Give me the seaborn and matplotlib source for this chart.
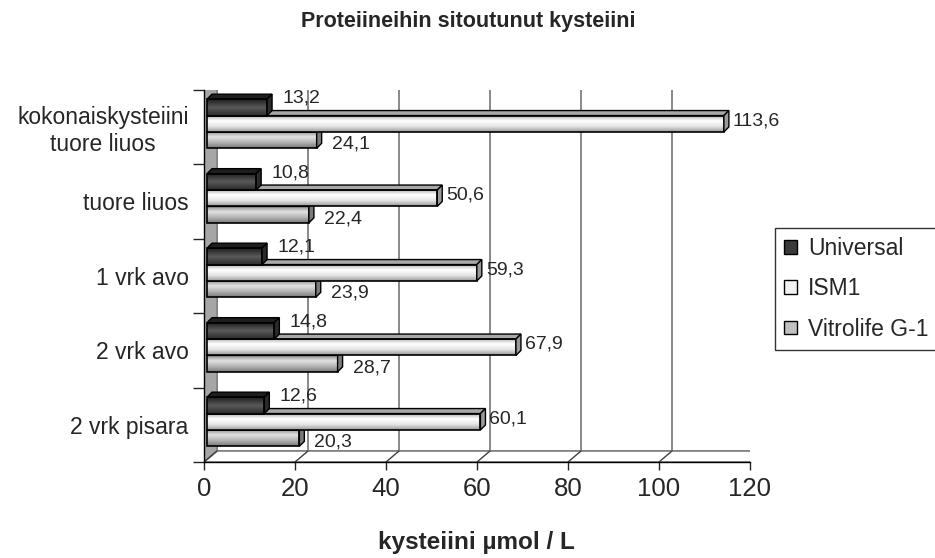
import numpy as np
import pandas as pd
import matplotlib
matplotlib.use("Agg")
import matplotlib.pyplot as plt
import matplotlib.transforms as mtrans
from matplotlib.patches import Polygon, Rectangle, Patch
from matplotlib.colors import LinearSegmentedColormap
import seaborn as sns

# data
categories = ["kokonaiskysteiini\ntuore liuos", "tuore liuos", "1 vrk avo", "2 vrk avo", "2 vrk pisara"]
series = ["Universal", "ISM1", "Vitrolife G-1"]
universal = [13.2, 10.8, 12.1, 14.8, 12.6]
ism1 = [113.6, 50.6, 59.3, 67.9, 60.1]
vitrolife = [24.1, 22.4, 23.9, 28.7, 20.3]
x_ticks = [0, 20, 40, 60, 80, 100, 120]

df = pd.DataFrame({
    "kategoria": categories * 3,
    "sarja": [series[0]] * 5 + [series[1]] * 5 + [series[2]] * 5,
    "arvo": universal + ism1 + vitrolife,
})

sns.set_style("white")
plt.rcParams['font.family'] = ['Liberation Sans', 'DejaVu Sans']

W, H = 935, 558
fig = plt.figure(figsize=(W / 100, H / 100), dpi=100)
# front plane of the 3d box
ax_l, ax_r, ax_t, ax_b = 204, 750, 89.5, 462
ax = fig.add_axes([ax_l / W, 1 - ax_b / H, (ax_r - ax_l) / W, (ax_b - ax_t) / H])

face = ["#3a3a3a", "#f2f2f2", "#c0c0c0"]
sns.barplot(data=df, y="kategoria", x="arvo", hue="sarja", orient="h",
            palette=face, width=0.66, ax=ax, legend=False, saturation=1,
            edgecolor="black", linewidth=1.2)

ax.set_xlim(0, 120)
ax.set_ylim(4.5, -0.5)
ax.set_xlabel("")
ax.set_ylabel("")

# pixel -> data helpers (axes geometry is fixed)
px_x = 120 / (ax_r - ax_l)
px_y = 5 / (ax_b - ax_t)


def shift(dx, dy):
    return ax.transData + mtrans.ScaledTranslation(dx / 100, dy / 100, fig.dpi_scale_trans)


# walls: back wall, left wall, floor
wall_dx, wall_dy = 13, 11
back_tr = shift(wall_dx, wall_dy)
ax.add_patch(Rectangle((0, -0.5), 120, 5, transform=back_tr, facecolor="white",
                       edgecolor="#808080", lw=1.4, zorder=0.1))
for t in x_ticks[1:-1]:
    ax.plot([t, t], [-0.5, 4.5], color="#808080", lw=1.3, transform=back_tr, zorder=0.2)
bwx, bwy = wall_dx * px_x, wall_dy * px_y
ax.add_patch(Polygon([(0, -0.5), (0, 4.5), (bwx, 4.5 - bwy), (bwx, -0.5 - bwy)],
                     closed=True, facecolor="#a6a6a6", edgecolor="#808080", lw=1, zorder=0.15))
ax.add_patch(Polygon([(0, 4.5), (120, 4.5), (120 + bwx, 4.5 - bwy), (bwx, 4.5 - bwy)],
                     closed=True, facecolor="white", edgecolor="#808080", lw=1.2, zorder=0.15))
for t in x_ticks:
    ax.plot([t, t + bwx], [4.5, 4.5 - bwy], color="#404040", lw=1, zorder=0.2)

# bars: shifted into the middle of the depth, with gradient and 3d faces
bar_tr = shift(3, 3)
depth_x, depth_y = 5 * px_x, 5 * px_y
grads = [
    ["#1e1e1e", "#5a5a5a", "#2a2a2a"],
    ["#a8a8a8", "#ffffff", "#e6e6e6", "#9a9a9a"],
    ["#8a8a8a", "#e2e2e2", "#b4b4b4", "#7a7a7a"],
]
caps = ["#2a2a2a", "#9a9a9a", "#7a7a7a"]
label_off = [(15, 1), (9, 3), (15, -4)]

for i, cont in enumerate(ax.containers):
    z = 3 - i
    cmap = LinearSegmentedColormap.from_list("g%d" % i, grads[i])
    for bar, val in zip(cont.patches, cont.datavalues):
        bar.set_transform(bar_tr)
        bar.set_zorder(z + 0.1)
        x0, y0 = bar.get_x(), bar.get_y()
        w, h = bar.get_width(), bar.get_height()
        bar.set_facecolor("none")
        im = ax.imshow(np.linspace(0, 1, 64).reshape(-1, 1), cmap=cmap, aspect="auto",
                       extent=(x0, x0 + w, y0 + h, y0), transform=bar_tr,
                       zorder=z, interpolation="bilinear")
        im.set_clip_path(bar)
        top = Polygon([(x0, y0), (x0 + w, y0), (x0 + w + depth_x, y0 - depth_y),
                       (x0 + depth_x, y0 - depth_y)], closed=True, transform=bar_tr,
                      facecolor=grads[i][0], edgecolor="black", lw=1.0, zorder=z + 0.05)
        end = Polygon([(x0 + w, y0), (x0 + w + depth_x, y0 - depth_y),
                       (x0 + w + depth_x, y0 + h - depth_y), (x0 + w, y0 + h)],
                      closed=True, transform=bar_tr, facecolor=caps[i],
                      edgecolor="black", lw=1.0, zorder=z + 0.2)
        ax.add_patch(top)
        ax.add_patch(end)
        yl = [y0, y0 + h / 2, y0 + h / 2][i]
        ax.annotate(("%.1f" % val).replace(".", ","), (x0 + w, yl), xycoords=bar_tr,
                    xytext=label_off[i], textcoords="offset pixels",
                    ha="left", va="center", fontsize=14, zorder=5)

# axes styling
for s in ["top", "right"]:
    ax.spines[s].set_visible(False)
ax.spines["left"].set_color("black")
ax.spines["bottom"].set_color("black")
ax.spines["left"].set_linewidth(1)
ax.spines["bottom"].set_linewidth(1)
ax.set_xticks(x_ticks)
ax.set_xticklabels([str(t) for t in x_ticks])
ax.tick_params(axis="x", direction="out", length=6, width=1, pad=5, labelsize=18.5, bottom=True)
ax.set_yticks(range(5))
ax.set_yticklabels(categories)
ax.set_yticks(np.arange(-0.5, 5, 1), minor=True)
ax.tick_params(axis="y", which="major", length=0, pad=11, labelsize=16.5, left=True)
ax.tick_params(axis="y", which="minor", length=8, width=1, direction="out", left=True)
for lbl in ax.get_yticklabels():
    lbl.set_multialignment("center")

fig.text(468 / W, 1 - 21 / H, "Proteiineihin sitoutunut kysteiini", ha="center", va="center",
         fontsize=15.5, fontweight="bold")
fig.text(476 / W, 1 - 543 / H, "kysteiini µmol / L", ha="center", va="center",
         fontsize=17.5, fontweight="bold")

handles = [Patch(facecolor=face[i], edgecolor="black", lw=1, label=series[i]) for i in range(3)]
leg = fig.legend(handles=handles, loc="upper left", bbox_to_anchor=(775 / W, 1 - 228 / H),
                 frameon=True, fancybox=False, edgecolor="black", fontsize=16.5,
                 handlelength=0.55, handleheight=0.55, handletextpad=0.5,
                 labelspacing=0.75, borderpad=0.4, borderaxespad=0)
leg.get_frame().set_linewidth(1)

fig.savefig("out.png", dpi=100)
